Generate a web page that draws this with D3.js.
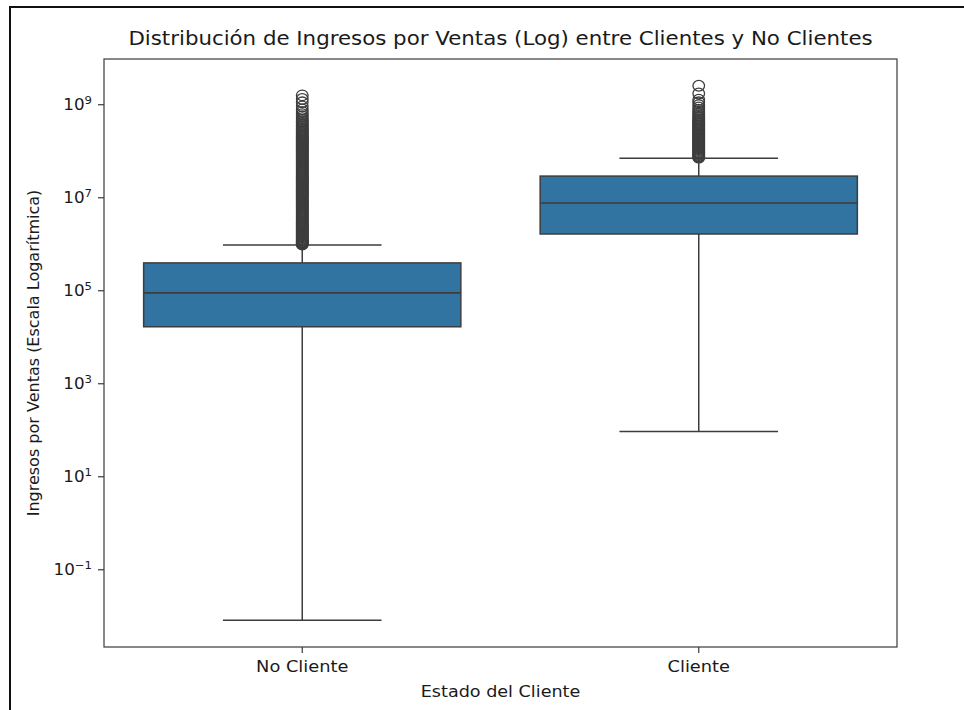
<!DOCTYPE html>
<html>
<head>
<meta charset="utf-8">
<script src="https://cdn.jsdelivr.net/npm/d3@7"></script>
<style>
  html, body { margin: 0; padding: 0; background: #fff; }
  svg { display: block; }
  text { font-family: "DejaVu Sans", sans-serif; fill: #1a1a1a; }
</style>
</head>
<body>
<svg id="chart" width="964" height="710"></svg>
<script>
// Categories on the x axis
const categories = ["No Cliente", "Cliente"];

// Box statistics per category: lower whisker, Q1, median, Q3, upper whisker
const whiskerLow  = [0.008, 92];
const q1Values    = [1.64e4, 1.62e6];
const medians     = [8.8e4, 7.5e6];
const q3Values    = [3.87e5, 2.85e7];
const whiskerHigh = [9.4e5, 6.9e7];

// Points beyond the upper whisker
const outliersNoCliente = [
  9.6e5, 9.9e5, 1.02e6, 1.06e6, 1.1e6, 1.15e6, 1.2e6, 1.26e6, 1.32e6, 1.38e6,
  1.45e6, 1.52e6, 1.6e6, 1.68e6, 1.76e6, 1.85e6, 1.95e6, 2.05e6, 2.15e6, 2.26e6,
  2.38e6, 2.5e6, 2.63e6, 2.77e6, 2.91e6, 3.06e6, 3.22e6, 3.39e6, 3.56e6, 3.75e6,
  3.94e6, 4.15e6, 4.36e6, 4.59e6, 4.83e6, 5.08e6, 5.34e6, 5.62e6, 5.91e6, 6.22e6,
  6.54e6, 6.88e6, 7.24e6, 7.62e6, 8.01e6, 8.43e6, 8.87e6, 9.33e6, 9.81e6, 1.03e7,
  1.09e7, 1.14e7, 1.2e7, 1.26e7, 1.33e7, 1.4e7, 1.47e7, 1.55e7, 1.63e7, 1.71e7,
  1.8e7, 1.9e7, 2.0e7, 2.1e7, 2.21e7, 2.32e7, 2.44e7, 2.57e7, 2.7e7, 2.84e7,
  2.99e7, 3.15e7, 3.31e7, 3.48e7, 3.66e7, 3.85e7, 4.05e7, 4.26e7, 4.49e7, 4.72e7,
  4.96e7, 5.22e7, 5.49e7, 5.78e7, 6.08e7, 6.4e7, 6.73e7, 7.08e7, 7.45e7, 7.83e7,
  8.24e7, 8.67e7, 9.12e7, 9.6e7, 1.01e8, 1.06e8, 1.12e8, 1.18e8, 1.24e8, 1.3e8,
  1.37e8, 1.44e8, 1.51e8, 1.6e8, 1.68e8, 1.77e8, 1.86e8, 1.96e8, 2.06e8, 2.16e8,
  2.28e8, 2.4e8, 2.52e8, 2.65e8, 2.79e8, 2.93e8, 3.1e8, 3.3e8, 3.5e8, 3.75e8,
  4.0e8, 4.3e8, 4.6e8, 5.0e8, 5.5e8, 6.1e8, 6.8e8, 7.7e8, 9.0e8, 1.1e9,
  1.3e9, 1.55e9
];
const outliersCliente = [
  7.1e7, 7.4e7, 7.7e7, 8.1e7, 8.5e7, 8.9e7, 9.3e7, 9.8e7, 1.03e8, 1.08e8,
  1.13e8, 1.19e8, 1.25e8, 1.31e8, 1.38e8, 1.45e8, 1.52e8, 1.6e8, 1.68e8, 1.76e8,
  1.85e8, 1.95e8, 2.05e8, 2.15e8, 2.26e8, 2.38e8, 2.5e8, 2.63e8, 2.77e8, 2.91e8,
  3.06e8, 3.22e8, 3.39e8, 3.56e8, 3.75e8, 3.94e8, 4.15e8, 4.4e8, 4.7e8, 5.0e8,
  5.4e8, 5.8e8, 6.3e8, 6.9e8, 7.6e8, 8.5e8, 9.6e8, 1.1e9, 1.25e9, 1.7e9,
  2.5e9
];
const outliers = [outliersNoCliente, outliersCliente];

// Y tick exponents (powers of ten)
const tickExponents = [-1, 1, 3, 5, 7, 9];

const titleText = "Distribución de Ingresos por Ventas (Log) entre Clientes y No Clientes";
const xLabelText = "Estado del Cliente";
const yLabelText = "Ingresos por Ventas (Escala Logarítmica)";

const svg = d3.select("#chart");
const plot = { left: 104, right: 897, top: 59, bottom: 647 };
const sx = 1.1; // horizontal stretch applied to horizontal text

// Log domain padded by 5% in log space on both ends
const allVals = whiskerLow.concat(whiskerHigh, outliersNoCliente, outliersCliente);
const lo = Math.log10(d3.min(allVals)), hi = Math.log10(d3.max(allVals));
const pad = (hi - lo) * 0.05;
const y = d3.scaleLog()
  .domain([Math.pow(10, lo - pad), Math.pow(10, hi + pad)])
  .range([plot.bottom, plot.top]);

const x = d3.scaleBand()
  .domain(categories)
  .range([plot.left, plot.right])
  .paddingInner(0).paddingOuter(0);

const boxW = x.bandwidth() * 0.8;
const capW = boxW / 2;
const lineColor = "#3d3d3d";
const boxFill = "#3274a1";

// Outer frame of the figure
svg.append("path")
  .attr("d", "M10,710 L10,7 L964,7")
  .attr("fill", "none")
  .attr("stroke", "#111")
  .attr("stroke-width", 2);

const g = svg.append("g");

categories.forEach((cat, i) => {
  const cx = x(cat) + x.bandwidth() / 2;
  // whiskers
  g.append("line").attr("x1", cx).attr("x2", cx)
    .attr("y1", y(q3Values[i])).attr("y2", y(whiskerHigh[i]))
    .attr("stroke", lineColor).attr("stroke-width", 1.5);
  g.append("line").attr("x1", cx).attr("x2", cx)
    .attr("y1", y(q1Values[i])).attr("y2", y(whiskerLow[i]))
    .attr("stroke", lineColor).attr("stroke-width", 1.5);
  // caps
  [whiskerHigh[i], whiskerLow[i]].forEach(v => {
    g.append("line").attr("x1", cx - capW / 2).attr("x2", cx + capW / 2)
      .attr("y1", y(v)).attr("y2", y(v))
      .attr("stroke", lineColor).attr("stroke-width", 1.5);
  });
  // box
  g.append("rect")
    .attr("x", cx - boxW / 2).attr("width", boxW)
    .attr("y", y(q3Values[i])).attr("height", y(q1Values[i]) - y(q3Values[i]))
    .attr("fill", boxFill).attr("stroke", lineColor).attr("stroke-width", 1.5);
  // median
  g.append("line").attr("x1", cx - boxW / 2).attr("x2", cx + boxW / 2)
    .attr("y1", y(medians[i])).attr("y2", y(medians[i]))
    .attr("stroke", lineColor).attr("stroke-width", 1.6);
  // fliers
  g.selectAll(null).data(outliers[i]).enter().append("ellipse")
    .attr("cx", cx).attr("cy", d => y(d)).attr("rx", 5.8).attr("ry", 5.3)
    .attr("fill", "none").attr("stroke", lineColor).attr("stroke-width", 1.3);
});

// Axes frame
svg.append("rect")
  .attr("x", plot.left).attr("y", plot.top)
  .attr("width", plot.right - plot.left).attr("height", plot.bottom - plot.top)
  .attr("fill", "none").attr("stroke", "#3a3a3a").attr("stroke-width", 1.2);

// Y axis with power-of-ten labels
const yAxis = d3.axisLeft(y)
  .tickValues(tickExponents.map(e => Math.pow(10, e)))
  .tickSize(6).tickPadding(6).tickFormat("");
const yg = svg.append("g").attr("transform", `translate(${plot.left},0)`).call(yAxis);
yg.select(".domain").remove();
yg.selectAll(".tick line").attr("stroke", "#3a3a3a").attr("stroke-width", 1.2);
yg.selectAll(".tick").each(function(d, i) {
  const t = d3.select(this).append("text")
    .attr("transform", `translate(-12,0) scale(${sx},1)`)
    .attr("dy", "0.36em")
    .attr("text-anchor", "end")
    .style("font-size", "15.2px");
  t.append("tspan").text("10");
  const e = tickExponents[i];
  t.append("tspan").attr("dy", "-0.55em").style("font-size", "10.6px")
    .text(e < 0 ? "\u2212" + Math.abs(e) : String(e));
});

// X axis
const xAxis = d3.axisBottom(x).tickSize(6).tickPadding(8);
const xg = svg.append("g").attr("transform", `translate(0,${plot.bottom})`).call(xAxis);
xg.select(".domain").remove();
xg.selectAll(".tick line").attr("stroke", "#3a3a3a").attr("stroke-width", 1.2);
xg.selectAll(".tick text")
  .attr("transform", `scale(${sx},1)`)
  .style("font-family", "DejaVu Sans, sans-serif")
  .style("font-size", "16.2px").attr("fill", "#1a1a1a");

// Labels
const midX = (plot.left + plot.right) / 2;
svg.append("text")
  .attr("transform", `translate(${midX},45) scale(${sx},1)`)
  .attr("text-anchor", "middle").style("font-size", "19.4px")
  .text(titleText);
svg.append("text")
  .attr("transform", `translate(${midX},697) scale(${sx},1)`)
  .attr("text-anchor", "middle").style("font-size", "16px")
  .text(xLabelText);
svg.append("text")
  .attr("transform", `translate(39,${(plot.top + plot.bottom) / 2}) rotate(-90)`)
  .attr("text-anchor", "middle").style("font-size", "16px")
  .text(yLabelText);
</script>
</body>
</html>
